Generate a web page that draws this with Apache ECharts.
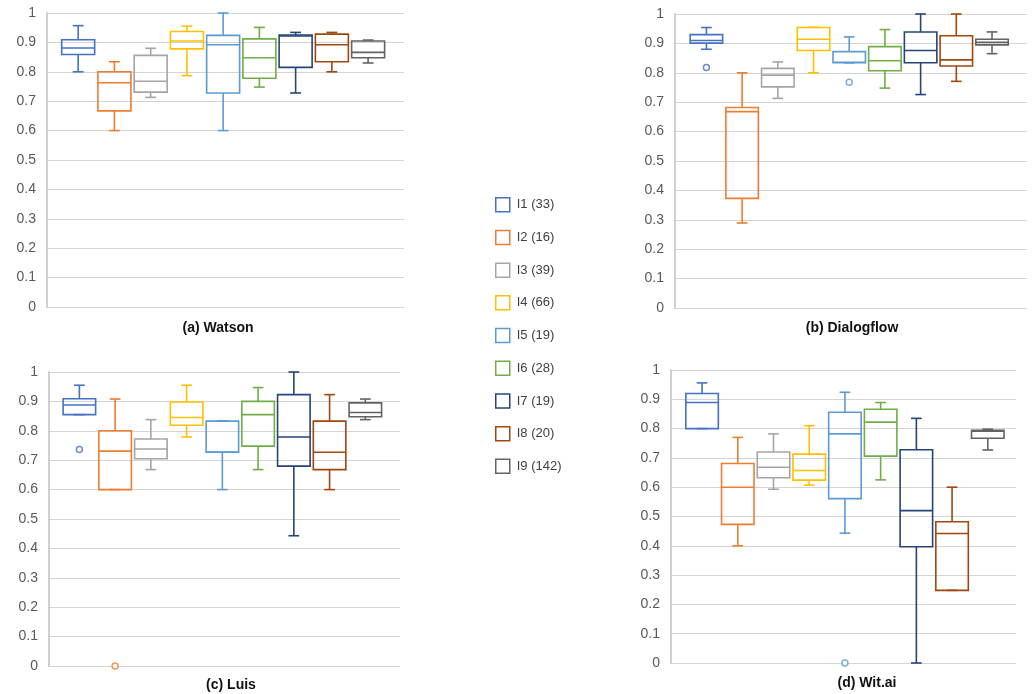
<!DOCTYPE html>
<html>
<head>
<meta charset="utf-8">
<script src="https://cdn.jsdelivr.net/npm/echarts@6/dist/echarts.min.js"></script>
<style>
	html, body { margin: 0; padding: 0; background: #fff; }
	#main { width: 1032px; height: 694px; }
</style>
</head>
<body>
<div id="main"></div>
<script>
var seriesNames = ['I1 (33)', 'I2 (16)', 'I3 (39)', 'I4 (66)', 'I5 (19)', 'I6 (28)', 'I7 (19)', 'I8 (20)', 'I9 (142)'];
var panelTitles = ['(a) Watson', '(b) Dialogflow', '(c) Luis', '(d) Wit.ai'];

// [min, Q1, median, Q3, max] for I1..I9
var watsonBoxes = [
	[0.800, 0.859, 0.881, 0.909, 0.957],
	[0.600, 0.667, 0.763, 0.800, 0.834],
	[0.713, 0.731, 0.768, 0.856, 0.880],
	[0.787, 0.878, 0.905, 0.937, 0.955],
	[0.600, 0.728, 0.892, 0.924, 1.000],
	[0.748, 0.778, 0.848, 0.912, 0.951],
	[0.728, 0.815, 0.922, 0.925, 0.934],
	[0.800, 0.834, 0.892, 0.928, 0.934],
	[0.830, 0.848, 0.866, 0.905, 0.908]
];
var dialogflowBoxes = [
	[0.880, 0.901, 0.910, 0.930, 0.954],
	[0.289, 0.373, 0.668, 0.682, 0.800],
	[0.713, 0.752, 0.792, 0.815, 0.837],
	[0.800, 0.876, 0.914, 0.954, 0.955],
	[0.834, 0.834, 0.836, 0.872, 0.922],
	[0.748, 0.807, 0.841, 0.889, 0.947],
	[0.726, 0.834, 0.876, 0.939, 1.000],
	[0.771, 0.823, 0.844, 0.926, 1.000],
	[0.865, 0.895, 0.904, 0.914, 0.939]
];
var luisBoxes = [
	[0.855, 0.855, 0.888, 0.909, 0.955],
	[0.600, 0.600, 0.731, 0.800, 0.908],
	[0.668, 0.705, 0.738, 0.772, 0.838],
	[0.779, 0.819, 0.845, 0.898, 0.955],
	[0.600, 0.727, 0.728, 0.833, 0.834],
	[0.668, 0.748, 0.855, 0.900, 0.947],
	[0.443, 0.680, 0.779, 0.923, 1.000],
	[0.600, 0.668, 0.727, 0.833, 0.923],
	[0.838, 0.848, 0.862, 0.895, 0.908]
];
var witaiBoxes = [
	[0.800, 0.800, 0.889, 0.920, 0.956],
	[0.400, 0.473, 0.600, 0.681, 0.770],
	[0.593, 0.632, 0.668, 0.720, 0.782],
	[0.607, 0.624, 0.657, 0.713, 0.810],
	[0.443, 0.561, 0.782, 0.856, 0.924],
	[0.625, 0.706, 0.822, 0.866, 0.889],
	[0.000, 0.397, 0.520, 0.728, 0.835],
	[0.248, 0.248, 0.442, 0.482, 0.600],
	[0.727, 0.767, 0.791, 0.794, 0.798]
];

// [series index, value]
var watsonOutliers = [];
var dialogflowOutliers = [[0, 0.818], [4, 0.768]];
var luisOutliers = [[0, 0.736], [1, 0.0]];
var witaiOutliers = [[4, 0.0]];

var colors = ['#4472C4', '#ED7D31', '#A5A5A5', '#FFC000', '#5B9BD5', '#70AD47', '#264478', '#9E480E', '#636363'];
var fontFamily = 'Liberation Sans, Arial, sans-serif';

// grid placement for each panel
var panels = [
	{ boxes: watsonBoxes, outliers: watsonOutliers, left: 47, right: 628, top: 13, bottom: 387, xMin: -0.86, xMax: 8.99, titleX: 213, titleY: 316 },
	{ boxes: dialogflowBoxes, outliers: dialogflowOutliers, left: 675, right: 5, top: 14, bottom: 386, xMin: -0.88, xMax: 8.98, titleX: 847, titleY: 316 },
	{ boxes: luisBoxes, outliers: luisOutliers, left: 49, right: 632, top: 372, bottom: 28, xMin: -0.85, xMax: 8.97, titleX: 226, titleY: 673 },
	{ boxes: witaiBoxes, outliers: witaiOutliers, left: 671, right: 16, top: 370, bottom: 31, xMin: -0.87, xMax: 8.79, titleX: 862, titleY: 671 }
];

/**
 * box + whiskers with short caps, like the excel chart
 */
function renderBox(params, api) {
	var x = api.value(0);
	var lo = api.coord([x, api.value(1)]);
	var q1 = api.coord([x, api.value(2)]);
	var med = api.coord([x, api.value(3)]);
	var q3 = api.coord([x, api.value(4)]);
	var hi = api.coord([x, api.value(5)]);
	var step = api.size([1, 0])[0];
	var half = step * 0.455;
	var cap = step * 0.15;
	var style = {
		stroke: api.visual('color'),
		lineWidth: 1.6,
		fill: 'transparent'
	};
	return {
		type: 'group',
		children: [{
			type: 'line',
			shape: { x1: lo[0], y1: lo[1], x2: q1[0], y2: q1[1] },
			style: style
		}, {
			type: 'line',
			shape: { x1: q3[0], y1: q3[1], x2: hi[0], y2: hi[1] },
			style: style
		}, {
			type: 'line',
			shape: { x1: lo[0] - cap, y1: lo[1], x2: lo[0] + cap, y2: lo[1] },
			style: style
		}, {
			type: 'line',
			shape: { x1: hi[0] - cap, y1: hi[1], x2: hi[0] + cap, y2: hi[1] },
			style: style
		}, {
			type: 'rect',
			shape: { x: q3[0] - half, y: q3[1], width: half * 2, height: q1[1] - q3[1] },
			style: style
		}, {
			type: 'line',
			shape: { x1: med[0] - half, y1: med[1], x2: med[0] + half, y2: med[1] },
			style: style
		}]
	};
}

var grids = [], xAxes = [], yAxes = [], titles = [], series = [];

panels.forEach(function(p, i) {
	grids.push({ left: p.left, right: p.right, top: p.top, bottom: p.bottom });
	xAxes.push({
		type: 'value',
		gridIndex: i,
		min: p.xMin,
		max: p.xMax,
		show: false
	});
	yAxes.push({
		type: 'value',
		gridIndex: i,
		min: 0,
		max: 1,
		interval: 0.1,
		axisLine: { show: true, onZero: false, lineStyle: { color: '#cfcfcf', width: 2 } },
		axisTick: { show: false },
		axisLabel: { color: '#595959', fontSize: 14, fontFamily: fontFamily, margin: 11 },
		splitLine: { lineStyle: { color: '#d4d4d4', width: 1 } }
	});
	titles.push({
		text: panelTitles[i],
		left: p.titleX,
		top: p.titleY,
		textAlign: 'center',
		textStyle: { fontSize: 14, fontWeight: 'bold', color: '#111', fontFamily: fontFamily }
	});

	p.boxes.forEach(function(b, k) {
		series.push({
			name: seriesNames[k],
			type: 'custom',
			xAxisIndex: i,
			yAxisIndex: i,
			color: colors[k],
			clip: false,
			renderItem: renderBox,
			encode: { x: 0, y: [1, 2, 3, 4, 5] },
			data: [[k].concat(b)]
		});
	});

	p.outliers.forEach(function(o) {
		series.push({
			name: seriesNames[o[0]],
			type: 'scatter',
			xAxisIndex: i,
			yAxisIndex: i,
			symbol: 'circle',
			symbolSize: 6,
			itemStyle: { color: '#fff', borderColor: colors[o[0]], borderWidth: 1.5 },
			data: [[o[0], o[1]]]
		});
	});
});

var legendData = seriesNames.map(function(n, k) {
	return {
		name: n,
		icon: 'rect',
		itemStyle: { color: '#fff', borderColor: colors[k], borderWidth: 1.5 }
	};
});

var chart = echarts.init(document.getElementById('main'));
chart.setOption({
	backgroundColor: '#fff',
	animation: false,
	title: titles,
	legend: {
		orient: 'vertical',
		left: 490,
		top: 192,
		itemWidth: 14,
		itemHeight: 14,
		itemGap: 17.2,
		textStyle: { color: '#404040', fontSize: 13, fontFamily: fontFamily, lineHeight: 14, padding: [0, 0, 0, 2] },
		data: legendData
	},
	grid: grids,
	xAxis: xAxes,
	yAxis: yAxes,
	series: series
});
</script>
</body>
</html>
